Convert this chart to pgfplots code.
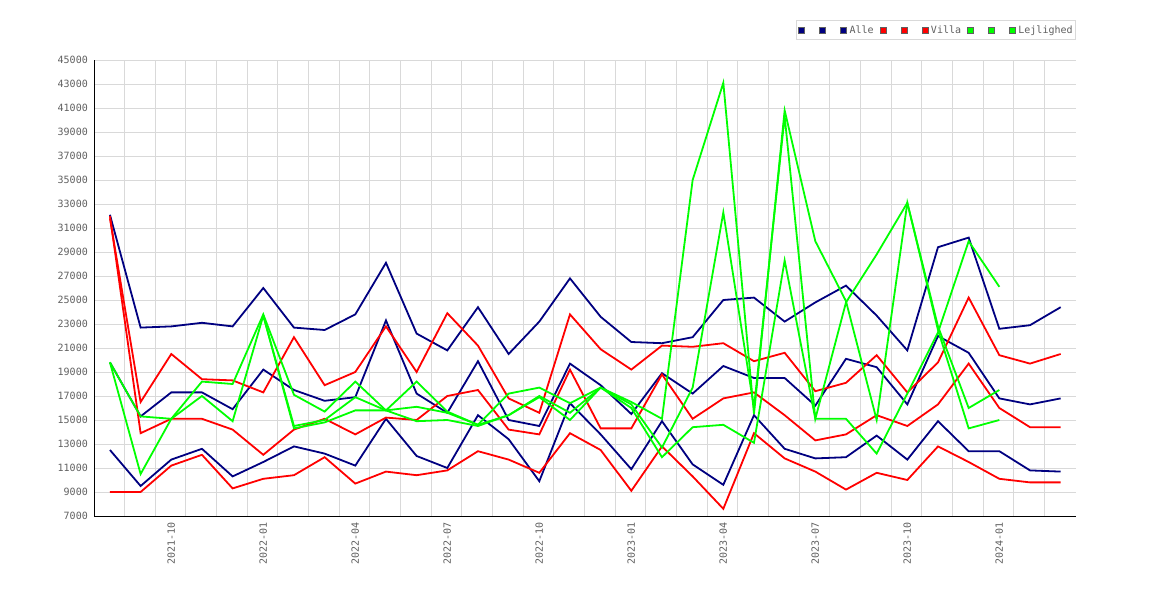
\documentclass[border=0pt]{standalone}
\usepackage{fontspec}
\setmonofont{DejaVu Sans Mono}
\usepackage{pgfplots}
\pgfplotsset{compat=1.18}
\definecolor{navyc}{RGB}{0,0,128}
\definecolor{redc}{RGB}{255,0,0}
\definecolor{greenc}{RGB}{0,255,0}
\definecolor{gridc}{RGB}{217,217,217}
\definecolor{txt}{RGB}{96,96,96}
\begin{document}
\begin{tikzpicture}
\useasboundingbox (0,0) rectangle (1170pt,600pt);
\begin{axis}[
  at={(94pt,84pt)}, anchor=south west, scale only axis,
  width=982pt, height=456pt,
  xmin=-0.52, xmax=31.5, ymin=7000, ymax=45000,
  scaled y ticks=false,
  axis lines*=left,
  axis line style={black, line width=1pt, -},
  ytick={7000,9000,11000,13000,15000,17000,19000,21000,23000,25000,27000,29000,31000,33000,35000,37000,39000,41000,43000,45000},
  yticklabels={7000,9000,11000,13000,15000,17000,19000,21000,23000,25000,27000,29000,31000,33000,35000,37000,39000,41000,43000,45000},
  xtick={2,5,8,11,14,17,20,23,26,29},
  xticklabels={2021-10,2022-01,2022-04,2022-07,2022-10,2023-01,2023-04,2023-07,2023-10,2024-01},
  minor xtick={0.47,1.47,2.47,3.47,4.47,5.47,6.47,7.47,8.47,9.47,10.47,11.47,12.47,13.47,14.47,15.47,16.47,17.47,18.47,19.47,20.47,21.47,22.47,23.47,24.47,25.47,26.47,27.47,28.47,29.47,30.47},
  ymajorgrids, xminorgrids,
  grid style={gridc, line width=0.8pt},
  minor grid style={gridc, line width=0.8pt},
  major tick length=0pt, minor tick length=0pt,
  xticklabel style={rotate=90, anchor=east, inner sep=0pt, font=\ttfamily\fontsize{10}{12}\selectfont, text=txt},
  yticklabel style={anchor=east, inner sep=0pt, font=\ttfamily\fontsize{10}{12}\selectfont, text=txt},
  xticklabel shift=6pt, yticklabel shift=6pt,
  legend columns=-1,
  legend style={at={(1,1.0877)}, anchor=north east, draw=gridc, line width=0.8pt,
    font=\ttfamily\fontsize{10}{12}\selectfont, text=txt,
    inner xsep=2pt, inner ysep=4pt,
    nodes={inner sep=1pt},
    /tikz/every odd column/.append style={column sep=1.5pt},
    /tikz/every even column/.append style={column sep=5pt}},
  legend image code/.code={\draw[#1, fill, draw=txt, line width=0.6pt, solid] (0pt,-3pt) rectangle (6pt,3pt);},
  every axis plot/.append style={line width=1.8pt, mark=none},
]
\addplot[navyc] coordinates {(0,32100)(1,22700)(2,22800)(3,23100)(4,22800)(5,26000)(6,22700)(7,22500)(8,23800)(9,28100)(10,22200)(11,20800)(12,24400)(13,20500)(14,23200)(15,26800)(16,23600)(17,21500)(18,21400)(19,21900)(20,25000)(21,25200)(22,23200)(23,24800)(24,26200)(25,23700)(26,20800)(27,29400)(28,30200)(29,22600)(30,22900)(31,24400)};
\addlegendentry{\hphantom{0}}
\addplot[navyc] coordinates {(0,19800)(1,15300)(2,17300)(3,17300)(4,15900)(5,19200)(6,17500)(7,16600)(8,16900)(9,23300)(10,17200)(11,15600)(12,19900)(13,15000)(14,14500)(15,19700)(16,17900)(17,15500)(18,18900)(19,17200)(20,19500)(21,18500)(22,18500)(23,16200)(24,20100)(25,19400)(26,16300)(27,22000)(28,20600)(29,16800)(30,16300)(31,16800)};
\addlegendentry{\hphantom{0}}
\addplot[navyc] coordinates {(0,12500)(1,9500)(2,11700)(3,12600)(4,10300)(5,11500)(6,12800)(7,12200)(8,11200)(9,15100)(10,12000)(11,11000)(12,15400)(13,13400)(14,9900)(15,16400)(16,13800)(17,10900)(18,14900)(19,11300)(20,9600)(21,15400)(22,12600)(23,11800)(24,11900)(25,13700)(26,11700)(27,14900)(28,12400)(29,12400)(30,10800)(31,10700)};
\addlegendentry{Alle}
\addplot[redc] coordinates {(0,31800)(1,16500)(2,20500)(3,18400)(4,18300)(5,17300)(6,21900)(7,17900)(8,19000)(9,22800)(10,19000)(11,23900)(12,21200)(13,16800)(14,15600)(15,23800)(16,20900)(17,19200)(18,21200)(19,21100)(20,21400)(21,19900)(22,20600)(23,17400)(24,18100)(25,20400)(26,17300)(27,19800)(28,25200)(29,20400)(30,19700)(31,20500)};
\addlegendentry{\hphantom{0}}
\addplot[redc] coordinates {(0,32000)(1,13900)(2,15100)(3,15100)(4,14200)(5,12100)(6,14200)(7,15100)(8,13800)(9,15200)(10,15000)(11,17000)(12,17500)(13,14200)(14,13800)(15,19200)(16,14300)(17,14300)(18,18800)(19,15100)(20,16800)(21,17300)(22,15400)(23,13300)(24,13800)(25,15400)(26,14500)(27,16300)(28,19700)(29,16000)(30,14400)(31,14400)};
\addlegendentry{\hphantom{0}}
\addplot[redc] coordinates {(0,9000)(1,9000)(2,11200)(3,12100)(4,9300)(5,10100)(6,10400)(7,11900)(8,9700)(9,10700)(10,10400)(11,10800)(12,12400)(13,11700)(14,10600)(15,13900)(16,12500)(17,9100)(18,12800)(19,10300)(20,7600)(21,13900)(22,11800)(23,10700)(24,9200)(25,10600)(26,10000)(27,12800)(28,11500)(29,10100)(30,9800)(31,9800)};
\addlegendentry{Villa}
\addplot[greenc] coordinates {(0,19800)(1,15300)(2,15100)(3,18200)(4,18000)(5,23800)(6,17100)(7,15700)(8,18200)(9,15800)(10,18200)(11,15700)(12,14600)(13,17200)(14,17700)(15,16400)(16,17700)(17,16500)(18,15100)(19,35000)(20,43100)(21,15500)(22,40800)(23,29900)(24,24900)(25,15000)(26,33100)(27,22800)(28,16000)(29,17500)};
\addlegendentry{\hphantom{0}}
\addplot[greenc] coordinates {(0,19800)(1,10500)(2,15100)(3,17000)(4,14900)(5,23700)(6,14500)(7,15000)(8,16900)(9,15800)(10,16100)(11,15600)(12,14600)(13,15400)(14,16900)(15,15000)(16,17700)(17,16300)(18,12700)(19,17700)(20,32300)(21,16000)(22,40300)(23,15100)(24,24800)(25,28800)(26,33100)(27,22500)(28,14300)(29,15000)};
\addlegendentry{\hphantom{0}}
\addplot[greenc] coordinates {(5,23700)(6,14300)(7,14800)(8,15800)(9,15800)(10,14900)(11,15000)(12,14500)(13,15400)(14,17000)(15,15600)(16,17700)(17,16000)(18,11900)(19,14400)(20,14600)(21,13100)(22,28300)(23,15100)(24,15100)(25,12200)(26,17200)(27,22300)(28,29900)(29,26100)};
\addlegendentry{Lejlighed}
\end{axis}
\end{tikzpicture}
\end{document}
